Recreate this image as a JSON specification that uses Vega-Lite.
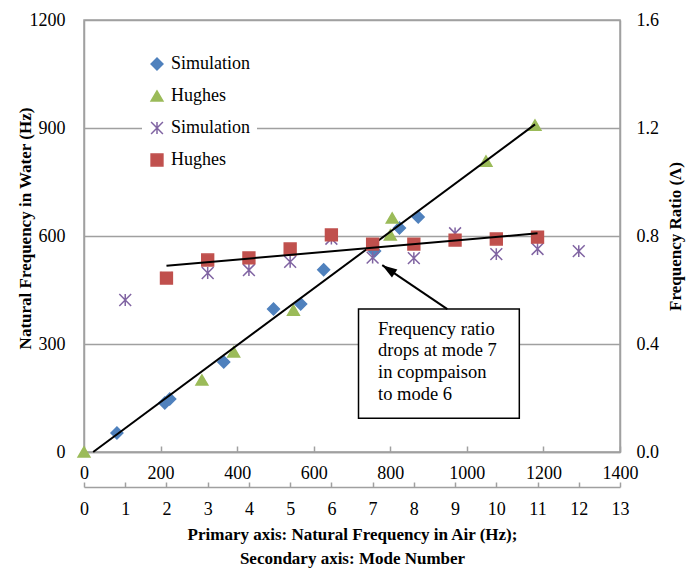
{
  "$schema": "https://vega.github.io/schema/vega-lite/v6.json",
  "width": 536,
  "height": 432,
  "autosize": {"type": "none"},
  "padding": {"left": 84, "top": 20, "right": 71, "bottom": 118},
  "config": {
    "font": "Liberation Serif",
    "view": {"stroke": "#A0A0A0", "strokeWidth": 1.5},
    "text": {"font": "Liberation Serif"},
    "legend": {"labelFont": "Liberation Serif"},
    "axis": {
      "labelFont": "Liberation Serif", "labelFontSize": 18, "labelColor": "#000",
      "titleFont": "Liberation Serif", "titleFontSize": 17, "titleFontWeight": "bold", "titleColor": "#000",
      "domainColor": "#A0A0A0", "domainWidth": 1.5, "tickColor": "#A0A0A0", "tickWidth": 1.5,
      "gridColor": "#A0A0A0", "gridWidth": 1.5
    }
  },
  "layer": [
    {
      "encoding": {
        "x": {"field": "x", "type": "quantitative", "scale": {"domain": [0, 1400], "nice": false, "zero": false},
              "axis": {"orient": "bottom", "values": [0, 200, 400, 600, 800, 1000, 1200, 1400], "format": "d", "tickSize": -6, "labelPadding": 18, "labelFlush": false, "labelOverlap": false, "grid": false, "title": null}},
        "y": {"field": "y", "type": "quantitative", "scale": {"domain": [0, 1200], "nice": false, "zero": false},
              "axis": {"orient": "left", "values": [0, 300, 600, 900, 1200], "format": "d", "ticks": false, "labelPadding": 19, "grid": true,
                       "title": "Natural Frequency in Water (Hz)", "titleAngle": -90, "titleBaseline": "middle", "titleAlign": "center", "titleX": -59, "titleY": 208}}
      },
      "layer": [
        {
          "data": {"values": [
            {"x": 86, "y": 53, "series": "Simulation (water)"},
            {"x": 211, "y": 136, "series": "Simulation (water)"},
            {"x": 224, "y": 147, "series": "Simulation (water)"},
            {"x": 365, "y": 250, "series": "Simulation (water)"},
            {"x": 495, "y": 397, "series": "Simulation (water)"},
            {"x": 566, "y": 411, "series": "Simulation (water)"},
            {"x": 626, "y": 506, "series": "Simulation (water)"},
            {"x": 759, "y": 558, "series": "Simulation (water)"},
            {"x": 824, "y": 622, "series": "Simulation (water)"},
            {"x": 873, "y": 653, "series": "Simulation (water)"},
            {"x": 0, "y": 0, "series": "Hughes (water)"},
            {"x": 308, "y": 200, "series": "Hughes (water)"},
            {"x": 391, "y": 278, "series": "Hughes (water)"},
            {"x": 547, "y": 394, "series": "Hughes (water)"},
            {"x": 800, "y": 603, "series": "Hughes (water)"},
            {"x": 805, "y": 650, "series": "Hughes (water)"},
            {"x": 1050, "y": 808, "series": "Hughes (water)"},
            {"x": 1178, "y": 908, "series": "Hughes (water)"}
          ]},
          "mark": {"type": "point", "filled": true, "size": 140, "strokeWidth": 1.5, "opacity": 1},
          "encoding": {
            "color": {"field": "series", "type": "nominal",
                      "scale": {"domain": ["Simulation (water)", "Hughes (water)", "Simulation (ratio)", "Hughes (ratio)"], "range": ["#4F81BD", "#9BBB59", "#8064A2", "#C0504D"]},
                      "legend": {"orient": "none", "legendX": 58, "legendY": 29, "padding": 6, "fillColor": "white", "symbolSize": 140, "symbolStrokeWidth": 1.5, "labelFontSize": 18, "labelColor": "#000", "rowPadding": 14, "labelOffset": 5, "title": null, "labelExpr": "split(datum.label, ' ')[0]"}},
            "stroke": {"field": "series", "type": "nominal",
                      "scale": {"domain": ["Simulation (water)", "Hughes (water)", "Simulation (ratio)", "Hughes (ratio)"], "range": ["#4F81BD", "#9BBB59", "#8064A2", "#C0504D"]},
                      "legend": {"orient": "none", "legendX": 58, "legendY": 29, "padding": 6, "fillColor": "white", "symbolSize": 140, "symbolStrokeWidth": 1.5, "labelFontSize": 18, "labelColor": "#000", "rowPadding": 14, "labelOffset": 5, "title": null, "labelExpr": "split(datum.label, ' ')[0]"}},
            "shape": {"field": "series", "type": "nominal",
                      "scale": {"domain": ["Simulation (water)", "Hughes (water)", "Simulation (ratio)", "Hughes (ratio)"], "range": ["diamond", "triangle-up", "M-1,-1L1,1M-1,1L1,-1M0,-1L0,1", "square"]},
                      "legend": {"orient": "none", "legendX": 58, "legendY": 29, "padding": 6, "fillColor": "white", "symbolSize": 140, "symbolStrokeWidth": 1.5, "labelFontSize": 18, "labelColor": "#000", "rowPadding": 14, "labelOffset": 5, "title": null, "labelExpr": "split(datum.label, ' ')[0]"}}
          }
        },
        {
          "data": {"values": [{"x": 24, "y": 0}, {"x": 1178, "y": 910}]},
          "mark": {"type": "line", "color": "#000", "strokeWidth": 2},
          "encoding": {}
        },
        {
          "data": {"values": [{"x": 717, "x2": 1137, "y": 397, "y2": 94}]},
          "mark": {"type": "rect", "fill": "white", "stroke": "#000", "strokeWidth": 1.5},
          "encoding": {"x2": {"field": "x2"}, "y2": {"field": "y2"}}
        },
        {
          "data": {"values": [
            {"x": 768, "y": 325, "line": "Frequency ratio"},
            {"x": 768, "y": 266, "line": "drops at mode 7"},
            {"x": 768, "y": 206, "line": "in copmpaison"},
            {"x": 768, "y": 145, "line": "to mode 6"}
          ]},
          "mark": {"type": "text", "align": "left", "baseline": "alphabetic", "fontSize": 18.5, "color": "#000"},
          "encoding": {"text": {"field": "line"}}
        },
        {
          "data": {"values": [{"x": 949, "y": 397, "x2": 779, "y2": 519}]},
          "mark": {"type": "rule", "color": "#000", "strokeWidth": 2},
          "encoding": {"x2": {"field": "x2"}, "y2": {"field": "y2"}}
        },
        {
          "data": {"values": [{"x": 779, "y": 519}]},
          "mark": {"type": "point", "shape": "M0,0L-0.42,1.3L0.42,1.3Z", "filled": true, "color": "#000", "size": 530, "angle": 304, "opacity": 1},
          "encoding": {}
        }
      ]
    },
    {
      "encoding": {
        "x": {"field": "x", "type": "quantitative", "scale": {"domain": [0, 13], "nice": false, "zero": false},
              "axis": {"orient": "bottom", "offset": 35, "values": [0, 1, 2, 3, 4, 5, 6, 7, 8, 9, 10, 11, 12, 13], "format": "d", "tickSize": -5, "labelPadding": 18, "labelFlush": false, "labelOverlap": false, "grid": false,
                       "title": ["Primary axis: Natural Frequency in Air (Hz);", "Secondary axis: Mode Number"], "titlePadding": 8, "titleLineHeight": 24}},
        "y": {"field": "y", "type": "quantitative", "scale": {"domain": [0, 1.6], "nice": false, "zero": false},
              "axis": {"orient": "right", "values": [0, 0.4, 0.8, 1.2, 1.6], "format": ".1f", "ticks": false, "labelPadding": 16, "grid": false,
                       "title": "Frequency Ratio (Λ)", "titleAngle": -90, "titleBaseline": "middle", "titleAlign": "center", "titleX": 55, "titleY": 216}}
      },
      "layer": [
        {
          "data": {"values": [
            {"x": 1, "y": 0.563, "series": "Simulation (ratio)"},
            {"x": 2, "y": 0.645, "series": "Simulation (ratio)"},
            {"x": 3, "y": 0.663, "series": "Simulation (ratio)"},
            {"x": 4, "y": 0.674, "series": "Simulation (ratio)"},
            {"x": 5, "y": 0.704, "series": "Simulation (ratio)"},
            {"x": 6, "y": 0.79, "series": "Simulation (ratio)"},
            {"x": 7, "y": 0.72, "series": "Simulation (ratio)"},
            {"x": 8, "y": 0.718, "series": "Simulation (ratio)"},
            {"x": 9, "y": 0.81, "series": "Simulation (ratio)"},
            {"x": 10, "y": 0.733, "series": "Simulation (ratio)"},
            {"x": 11, "y": 0.752, "series": "Simulation (ratio)"},
            {"x": 12, "y": 0.744, "series": "Simulation (ratio)"},
            {"x": 2, "y": 0.644, "series": "Hughes (ratio)"},
            {"x": 3, "y": 0.711, "series": "Hughes (ratio)"},
            {"x": 4, "y": 0.719, "series": "Hughes (ratio)"},
            {"x": 5, "y": 0.752, "series": "Hughes (ratio)"},
            {"x": 6, "y": 0.804, "series": "Hughes (ratio)"},
            {"x": 7, "y": 0.77, "series": "Hughes (ratio)"},
            {"x": 8, "y": 0.77, "series": "Hughes (ratio)"},
            {"x": 9, "y": 0.785, "series": "Hughes (ratio)"},
            {"x": 10, "y": 0.789, "series": "Hughes (ratio)"},
            {"x": 11, "y": 0.796, "series": "Hughes (ratio)"}
          ]},
          "mark": {"type": "point", "filled": true, "size": 140, "strokeWidth": 1.5, "opacity": 1},
          "encoding": {
            "color": {"field": "series", "type": "nominal",
                      "scale": {"domain": ["Simulation (water)", "Hughes (water)", "Simulation (ratio)", "Hughes (ratio)"], "range": ["#4F81BD", "#9BBB59", "#8064A2", "#C0504D"]},
                      "legend": {"orient": "none", "legendX": 58, "legendY": 29, "padding": 6, "fillColor": "white", "symbolSize": 140, "symbolStrokeWidth": 1.5, "labelFontSize": 18, "labelColor": "#000", "rowPadding": 14, "labelOffset": 5, "title": null, "labelExpr": "split(datum.label, ' ')[0]"}},
            "stroke": {"field": "series", "type": "nominal",
                      "scale": {"domain": ["Simulation (water)", "Hughes (water)", "Simulation (ratio)", "Hughes (ratio)"], "range": ["#4F81BD", "#9BBB59", "#8064A2", "#C0504D"]},
                      "legend": {"orient": "none", "legendX": 58, "legendY": 29, "padding": 6, "fillColor": "white", "symbolSize": 140, "symbolStrokeWidth": 1.5, "labelFontSize": 18, "labelColor": "#000", "rowPadding": 14, "labelOffset": 5, "title": null, "labelExpr": "split(datum.label, ' ')[0]"}},
            "shape": {"field": "series", "type": "nominal",
                      "scale": {"domain": ["Simulation (water)", "Hughes (water)", "Simulation (ratio)", "Hughes (ratio)"], "range": ["diamond", "triangle-up", "M-1,-1L1,1M-1,1L1,-1M0,-1L0,1", "square"]},
                      "legend": {"orient": "none", "legendX": 58, "legendY": 29, "padding": 6, "fillColor": "white", "symbolSize": 140, "symbolStrokeWidth": 1.5, "labelFontSize": 18, "labelColor": "#000", "rowPadding": 14, "labelOffset": 5, "title": null, "labelExpr": "split(datum.label, ' ')[0]"}}
          }
        },
        {
          "data": {"values": [{"x": 2, "y": 0.69}, {"x": 11, "y": 0.81}]},
          "mark": {"type": "line", "color": "#000", "strokeWidth": 2},
          "encoding": {}
        }
      ]
    }
  ],
  "resolve": {"scale": {"x": "independent", "y": "independent"}}
}
